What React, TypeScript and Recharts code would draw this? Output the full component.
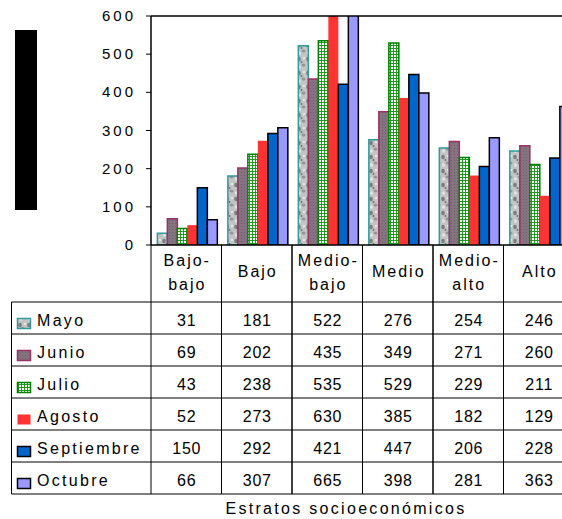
import { BarChart, Bar, XAxis, YAxis, ReferenceLine } from "recharts";

const categories = ["Bajo-\nbajo", "Bajo", "Medio-\nbajo", "Medio", "Medio-\nalto", "Alto"];
const mayo = [31, 181, 522, 276, 254, 246];
const junio = [69, 202, 435, 349, 271, 260];
const julio = [43, 238, 535, 529, 229, 211];
const agosto = [52, 273, 630, 385, 182, 129];
const septiembre = [150, 292, 421, 447, 206, 228];
const octubre = [66, 307, 665, 398, 281, 363];
const yTicks = [0, 100, 200, 300, 400, 500, 600];
const axisTitle = "Estratos socioeconómicos";

const series = [
  { key: "mayo", name: "Mayo", values: mayo, fill: "url(#pMayo)", stroke: "#2f9b9b" },
  { key: "junio", name: "Junio", values: junio, fill: "url(#pJunio)", stroke: "#993366" },
  { key: "julio", name: "Julio", values: julio, fill: "url(#pJulio)", stroke: "#008000" },
  { key: "agosto", name: "Agosto", values: agosto, fill: "#ff3333", stroke: "none" },
  { key: "septiembre", name: "Septiembre", values: septiembre, fill: "#0066cc", stroke: "#000" },
  { key: "octubre", name: "Octubre", values: octubre, fill: "#9999ff", stroke: "#000" },
];

const data = categories.map((cat, i) => {
  const row: Record<string, string | number> = { cat };
  series.forEach((s) => (row[s.key] = s.values[i]));
  return row;
});

const FONT = "'Liberation Sans', Arial, sans-serif";
const W = 562;
const H = 519;
const CHART_W = 574; // plot runs past the right edge, like the original
const PLOT_LEFT = 151;
const PLOT_TOP = 16;
const X_AXIS_H = 274;
const COL_W = (CHART_W - PLOT_LEFT) / categories.length;
const ROW0 = 302;
const ROW_H = 32;
const TABLE_BOTTOM = ROW0 + ROW_H * series.length;

function CategoryTick(props: any) {
  const { x, y, payload } = props;
  const i = categories.indexOf(payload.value);
  const lines = String(payload.value).split("\n");
  const left = x - COL_W / 2;
  const right = x + COL_W / 2;
  return (
    <g fontFamily={FONT} fill="#000">
      <line x1={left} x2={left} y1={y} y2={TABLE_BOTTOM} stroke="#000" />
      <line x1={right} x2={right} y1={y} y2={TABLE_BOTTOM} stroke="#000" />
      {lines.map((l, k) => (
        <text
          key={k}
          x={x + 1}
          y={lines.length === 1 ? y + 32 : y + 21 + k * 24}
          textAnchor="middle"
          fontSize={16}
          letterSpacing={2}
        >
          {l}
        </text>
      ))}
      {series.map((s, r) => (
        <text
          key={s.key}
          x={x + 0.5}
          y={ROW0 + r * ROW_H + 23.5}
          textAnchor="middle"
          fontSize={16}
          letterSpacing={0.8}
        >
          {s.values[i]}
        </text>
      ))}
    </g>
  );
}

function ValueTick(props: any) {
  const { x, y, payload } = props;
  return (
    <text x={x} y={y + 5} textAnchor="end" fontFamily={FONT} fontSize={15} letterSpacing={3} fill="#000">
      {payload.value}
    </text>
  );
}

function Patterns() {
  return (
    <defs>
      <pattern id="pMayo" width="9" height="14" patternUnits="userSpaceOnUse">
        <rect width="9" height="14" fill="#c4c4c4" />
        <ellipse cx="2" cy="3" rx="1.8" ry="2.2" fill="#7c7c7c" />
        <ellipse cx="6.5" cy="9" rx="2" ry="1.6" fill="#959595" />
        <ellipse cx="7" cy="2" rx="1.3" ry="1.1" fill="#ececec" />
        <ellipse cx="2.5" cy="11" rx="1.4" ry="1.7" fill="#e6e6e6" />
        <circle cx="4.5" cy="6" r="1" fill="#6c6c6c" />
      </pattern>
      <pattern id="pJunio" width="3" height="3" patternUnits="userSpaceOnUse">
        <rect width="3" height="3" fill="#85737f" />
        <rect x="1" y="1" width="1" height="1" fill="#6a5f6c" />
      </pattern>
      <pattern id="pJulio" width="3" height="3" patternUnits="userSpaceOnUse">
        <rect width="3" height="3" fill="#ffffff" />
        <rect width="3" height="1" fill="#1f9a1f" />
        <rect width="1" height="3" fill="#1f9a1f" />
      </pattern>
    </defs>
  );
}

export default function App() {
  return (
    <div
      style={{
        position: "absolute",
        left: 0,
        top: 0,
        width: W,
        height: H,
        overflow: "hidden",
        background: "#fff",
      }}
    >
      <BarChart
        width={CHART_W}
        height={H}
        data={data}
        margin={{ top: PLOT_TOP, right: 0, bottom: 0, left: 0 }}
        barGap={0}
        barCategoryGap="9%"
      >
        <XAxis
          dataKey="cat"
          height={X_AXIS_H}
          interval={0}
          tickLine={false}
          tickSize={0}
          tickMargin={0}
          axisLine={{ stroke: "#000", strokeWidth: 1.5 }}
          tick={<CategoryTick />}
        />
        <YAxis
          width={PLOT_LEFT}
          domain={[0, 600]}
          ticks={yTicks}
          allowDataOverflow
          tickSize={5}
          tickMargin={10}
          axisLine={{ stroke: "#000", strokeWidth: 1.5 }}
          tickLine={{ stroke: "#000" }}
          tick={<ValueTick />}
        />
        {series.map((s) => (
          <Bar
            key={s.key}
            dataKey={s.key}
            name={s.name}
            fill={s.fill}
            stroke={s.stroke}
            strokeWidth={1.5}
            isAnimationActive={false}
          />
        ))}
        <ReferenceLine y={600} stroke="#000" strokeWidth={1.5} />
      </BarChart>
      <svg
        width={W}
        height={H}
        style={{ position: "absolute", left: 0, top: 0, pointerEvents: "none" }}
        fontFamily={FONT}
      >
        <Patterns />
        <rect x={15} y={30} width={22} height={180} fill="#000" />
        <line x1={11.5} x2={11.5} y1={ROW0} y2={TABLE_BOTTOM} stroke="#000" />
        {series.map((_, r) => (
          <line key={r} x1={11.5} x2={W} y1={ROW0 + r * ROW_H} y2={ROW0 + r * ROW_H} stroke="#000" />
        ))}
        <line x1={11.5} x2={W} y1={TABLE_BOTTOM} y2={TABLE_BOTTOM} stroke="#000" />
        {series.map((s, r) => (
          <g key={s.key}>
            <rect
              x={17.5}
              y={ROW0 + r * ROW_H + 16.5}
              width={13}
              height={10}
              fill={s.fill}
              stroke={s.stroke}
              strokeWidth={1.5}
            />
            <text x={37} y={ROW0 + r * ROW_H + 24} fontSize={16} letterSpacing={2.3} fill="#000">
              {s.name}
            </text>
          </g>
        ))}
        <text x={346} y={514} textAnchor="middle" fontSize={16} letterSpacing={2.3} fill="#000">
          {axisTitle}
        </text>
      </svg>
    </div>
  );
}
